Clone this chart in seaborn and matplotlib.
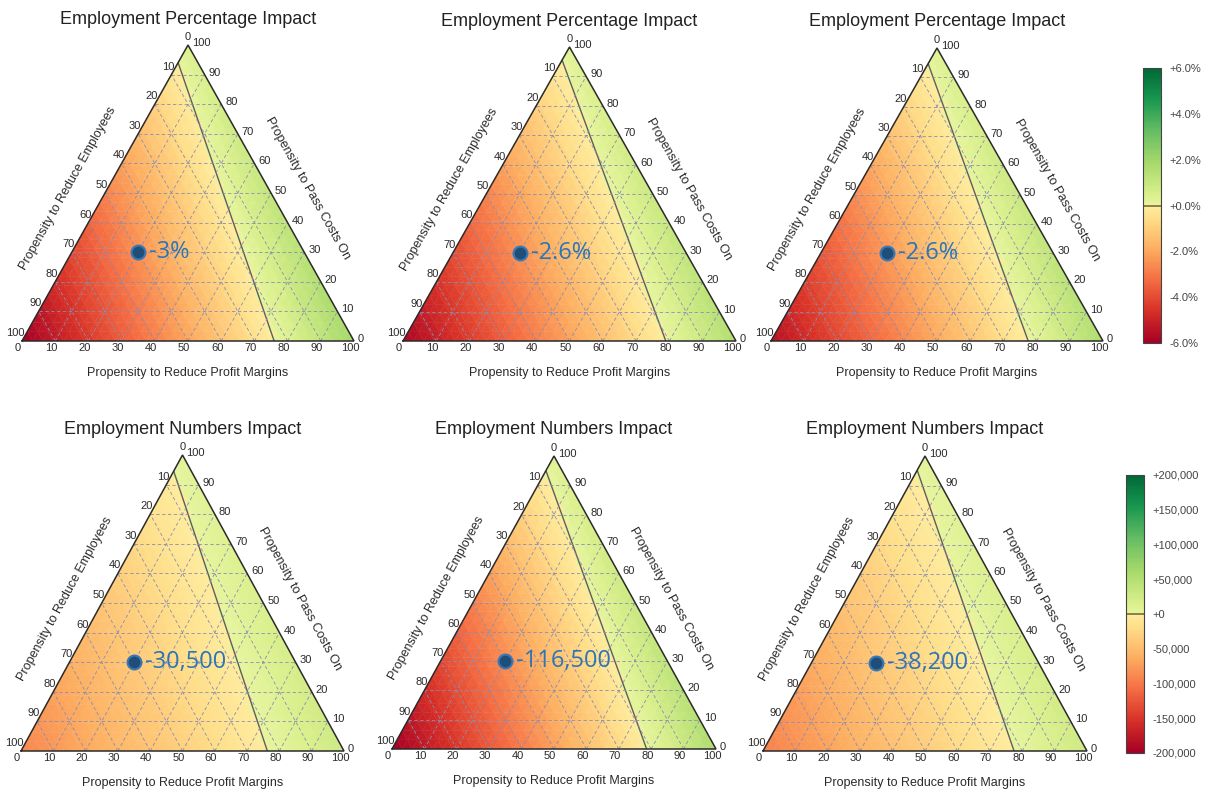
import numpy as np
import matplotlib
matplotlib.use("Agg")
import matplotlib.pyplot as plt
import matplotlib.tri as mtri
from matplotlib.colors import ListedColormap, Normalize
from matplotlib.cm import ScalarMappable
from matplotlib.ticker import FuncFormatter
import seaborn as sns

# panel titles and the value written next to the marked point
titles = ["Employment Percentage Impact"] * 3 + ["Employment Numbers Impact"] * 3
point_labels = ["-3%", "-2.6%", "-2.6%", "-30,500", "-116,500", "-38,200"]

# marked point (percent of each propensity)
point_profit = [20, 20, 20, 20, 20, 20]
point_employees = [50, 50, 50, 50, 50, 50]
point_pass = [30, 30, 30, 30, 30, 30]

# impact at each corner of the triangle (100% of one propensity)
corner_employees = [-6.0, -5.8, -5.5, -90000, -200000, -95000]
corner_profit = [1.9, 1.55, 1.6, 28000, 54500, 27600]
corner_pass = [0.38, 0.27, 0.31, 5200, 10500, 4800]

pct_ticks = [-6, -4, -2, 0, 2, 4, 6]
num_ticks = [-200000, -150000, -100000, -50000, 0, 50000, 100000, 150000, 200000]
axis_ticks = list(range(0, 101, 10))

W, H = 1206, 793
# triangle pixel box per panel: left x, right x, base y, apex y
panel_px = [(22, 354, 341, 45), (403, 736, 341, 47), (771, 1103, 341, 48),
            (21, 344, 751, 455), (392, 716, 749, 456), (763, 1087, 751, 456)]

sns.set_theme(style="white")
plt.rcParams["font.family"] = ["Liberation Sans", "DejaVu Sans"]

pal = sns.color_palette("RdYlGn", 256)
cmap = ListedColormap(list(pal[:112]) + list(pal[144:]))

PT = 0.72  # points per pixel at 100 dpi
TXT = "#2a2a2a"
GRID = "#8c8cb0"


def to_xy(a, b, c):
    s = a + b + c
    return (a + c / 2) / s, c / s


fig = plt.figure(figsize=(W / 100, H / 100), dpi=100)

for i in range(6):
    lx, rx, by, ay = panel_px[i]
    w, h = rx - lx, by - ay
    ax = fig.add_axes([lx / W, 1 - by / H, w / W, h / H])
    ax.set_xlim(0, 1)
    ax.set_ylim(0, 1)
    ax.axis("off")

    vmax = 6 if i < 3 else 200000
    norm = Normalize(-vmax, vmax)

    tri = mtri.Triangulation([0, 1, 0.5], [0, 0, 1])
    z = np.array([corner_employees[i], corner_profit[i], corner_pass[i]], dtype=float)
    refiner = mtri.UniformTriRefiner(tri)
    tri_f, z_f = refiner.refine_field(z, triinterpolator=mtri.LinearTriInterpolator(tri, z), subdiv=5)
    ax.tripcolor(tri_f, z_f, cmap=cmap, norm=norm, shading="flat",
                 edgecolors="face", linewidth=0.3)
    ax.tricontour(tri_f, z_f, levels=[0], colors="#5e5e5e", linewidths=1.0)

    # dashed grid
    for k in axis_ticks[1:-1]:
        f = k / 100
        ax.plot([f / 2, 1 - f / 2], [f, f], color=GRID, lw=0.6, ls=(0, (4, 3)))
        ax.plot([f, (1 + f) / 2], [0, 1 - f], color=GRID, lw=0.6, ls=(0, (4, 3)))
        ax.plot([1 - f, (1 - f) / 2], [0, 1 - f], color=GRID, lw=0.6, ls=(0, (4, 3)))

    ax.plot([0, 1, 0.5, 0], [0, 0, 1, 0], color="#2b2b2b", lw=1.1,
            clip_on=False, solid_joinstyle="miter")

    # tick labels
    for k in axis_ticks:
        f = k / 100
        ax.annotate(str(k), (f, 0), xytext=(-4 * PT, -2 * PT), textcoords="offset points",
                    ha="center", va="top", fontsize=8, color=TXT, annotation_clip=False)
        ax.annotate(str(k), ((1 - f) / 2, 1 - f), xytext=(3 * PT, 3 * PT), textcoords="offset points",
                    ha="right", va="bottom", fontsize=8, color=TXT, annotation_clip=False)
        ax.annotate(str(k), (1 - f / 2, f), xytext=(4 * PT, 2 * PT), textcoords="offset points",
                    ha="left", va="center", fontsize=8, color=TXT, annotation_clip=False)

    # axis titles
    elen = np.hypot(w / 2, h)
    ex, ey = (w / 2) / elen, h / elen
    ang = np.degrees(np.arctan2(h, w / 2))
    ax.annotate("Propensity to Reduce Employees", (0.25, 0.5),
                xytext=((-34 * ey - 14 * ex) * PT, (34 * ex - 14 * ey) * PT),
                textcoords="offset points", ha="center", va="center", rotation=ang,
                rotation_mode="anchor", fontsize=9, color=TXT, annotation_clip=False)
    ax.annotate("Propensity to Pass Costs On", (0.75, 0.5),
                xytext=((34 * ey + 14 * ex) * PT, (34 * ex - 14 * ey) * PT),
                textcoords="offset points", ha="center", va="center", rotation=-ang,
                rotation_mode="anchor", fontsize=9, color=TXT, annotation_clip=False)
    ax.annotate("Propensity to Reduce Profit Margins", (0.5, 0), xytext=(0, -32 * PT),
                textcoords="offset points", ha="center", va="center", fontsize=9,
                color=TXT, annotation_clip=False)
    ax.annotate(titles[i], (0.5, 1), xytext=(0, 26 * PT), textcoords="offset points",
                ha="center", va="center", fontsize=13, color="#222222", annotation_clip=False)

    # marked point
    px, py = to_xy(point_profit[i], point_employees[i], point_pass[i])
    sns.scatterplot(x=[px], y=[py], ax=ax, s=100, color="#1f4e79",
                    edgecolor="#3a78b5", linewidth=1.5, zorder=5, clip_on=False)
    ax.annotate(point_labels[i], (px, py), xytext=(11 * PT, 0), textcoords="offset points",
                ha="left", va="center", fontsize=17, color="#2e75b6",
                family=["Open Sans", "DejaVu Sans"], zorder=6)

# colour bars
cb_px = [(1143, 343, 18, 275, 6, pct_ticks, lambda v, p: f"{v:+.1f}%"),
         (1126, 753, 18, 278, 200000, num_ticks, lambda v, p: f"{v:+,.0f}")]
for x0, y0, cw, ch, vmax, tks, fmt in cb_px:
    cax = fig.add_axes([x0 / W, 1 - y0 / H, cw / W, ch / H])
    sm = ScalarMappable(norm=Normalize(-vmax, vmax), cmap=cmap)
    cb = fig.colorbar(sm, cax=cax, ticks=tks, format=FuncFormatter(fmt))
    cb.outline.set_edgecolor("#444444")
    cb.outline.set_linewidth(0.8)
    cax.tick_params(length=0, labelsize=8, labelcolor="#444444", pad=6)
    cax.axhline(0, color="#7a6a3a", lw=1.2)

fig.savefig("out.png", dpi=100)
